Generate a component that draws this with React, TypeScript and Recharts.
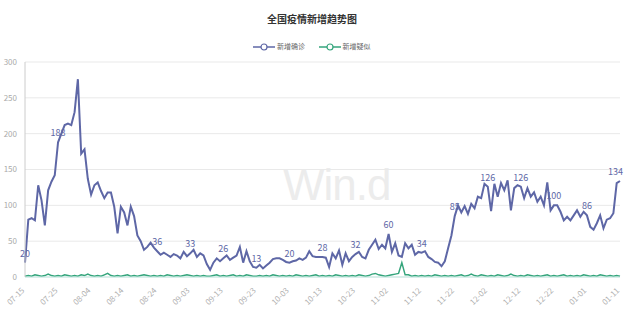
import type { ReactElement } from 'react'
import { LineChart, Line, XAxis, YAxis, CartesianGrid, LabelList } from 'recharts'

const TITLE = '全国疫情新增趋势图'
const SERIES_NAMES = ['新增确诊', '新增疑似']

// daily categories, 2020-07-15 .. 2021-01-11
const START_DAY = Date.UTC(2020, 6, 15)

const tickLabels = [
  '07-15', '07-25', '08-04', '08-14', '08-24', '09-03', '09-13', '09-23', '10-03', '10-13',
  '10-23', '11-02', '11-12', '11-22', '12-02', '12-12', '12-22', '01-01', '01-11',
]

const yTicks = [0, 50, 100, 150, 200, 250, 300]

const confirmed = [
  20, 80, 82, 79, 128, 107, 72, 121, 133, 142,
  188, 200, 212, 214, 212, 230, 276, 172, 178, 137,
  115, 128, 132, 120, 110, 118, 118, 98, 61, 98,
  90, 72, 98, 85, 58, 50, 38, 42, 48, 41,
  36, 31, 34, 31, 28, 32, 30, 26, 35, 29,
  33, 38, 28, 33, 30, 18, 10, 20, 26, 22,
  26, 30, 24, 27, 30, 42, 20, 36, 22, 14,
  13, 17, 12, 16, 20, 25, 26, 26, 24, 21,
  20, 22, 23, 26, 24, 27, 36, 29, 28, 28,
  28, 27, 14, 33, 26, 37, 17, 33, 22, 28,
  32, 35, 28, 26, 38, 45, 52, 39, 45, 40,
  60, 35, 47, 30, 28, 47, 40, 45, 31, 35,
  34, 36, 28, 25, 21, 20, 15, 22, 40, 58,
  85, 100, 90, 99, 88, 102, 96, 112, 110, 130,
  126, 92, 130, 112, 131, 121, 135, 93, 124, 128,
  126, 110, 124, 112, 118, 105, 112, 100, 132, 93,
  100, 100, 91, 79, 84, 79, 86, 93, 84, 91,
  86, 70, 66, 75, 86, 68, 80, 82, 89, 131,
  134,
]

const suspected = [
  1, 2, 1, 3, 2, 1, 2, 4, 2, 1,
  2, 1, 3, 2, 1, 2, 1, 3, 2, 4,
  2, 1, 2, 1, 3, 5, 2, 1, 2, 1,
  2, 3, 1, 2, 1, 2, 3, 2, 1, 2,
  1, 2, 1, 3, 2, 1, 2, 1, 2, 3,
  2, 1, 2, 1, 2, 1, 1, 2, 3, 1,
  2, 1, 2, 3, 1, 2, 1, 3, 2, 1,
  1, 2, 1, 2, 1, 3, 2, 1, 2, 1,
  2, 1, 3, 2, 1, 2, 1, 2, 3, 1,
  2, 1, 2, 1, 3, 2, 1, 2, 1, 2,
  1, 3, 2, 1, 2, 4, 5, 3, 2, 1,
  2, 3, 4, 5, 20, 3, 3, 1, 2, 1,
  2, 1, 2, 1, 3, 2, 1, 2, 1, 2,
  1, 2, 3, 1, 2, 4, 2, 1, 3, 2,
  1, 2, 1, 3, 2, 1, 2, 4, 2, 1,
  2, 1, 3, 2, 1, 2, 1, 2, 3, 1,
  2, 1, 2, 3, 1, 2, 1, 2, 1, 3,
  2, 1, 2, 1, 3, 2, 1, 2, 1, 2,
  1,
]

// labels in the reference are hidden where they collide with the line
const hiddenLabelIdx = [20, 30]

const BLUE = '#5e67a6'
const GREEN = '#35a57c'

function dayLabel(i: number): string {
  const d = new Date(START_DAY + i * 86400000)
  const mm = String(d.getUTCMonth() + 1).padStart(2, '0')
  const dd = String(d.getUTCDate()).padStart(2, '0')
  return `${mm}-${dd}`
}

const data = confirmed.map((v, i) => ({ date: dayLabel(i), confirmed: v, suspected: suspected[i] }))
const tickDates = data.filter((_, i) => i % 10 === 0).map((d) => d.date)

function XTick(props: any): ReactElement | null {
  const { x, y, payload } = props
  if (!tickLabels.includes(payload.value)) return null
  return (
    <text
      x={x}
      y={y + 6}
      transform={`rotate(-45 ${x} ${y + 6})`}
      textAnchor="end"
      fontSize={8}
      fill="#b0b0b0"
    >
      {payload.value}
    </text>
  )
}

function PointLabel(props: any): ReactElement | null {
  const { x, y, value, index } = props
  if (index % 10 !== 0 || hiddenLabelIdx.includes(index)) return null
  const last = index === confirmed.length - 1
  return (
    <text x={last ? x + 3 : x} y={y - 6} textAnchor={last ? 'end' : 'middle'} fontSize={9} fill={BLUE}>
      {value}
    </text>
  )
}

function LegendIcon({ color }: { color: string }): ReactElement {
  return (
    <svg width={22} height={10} style={{ verticalAlign: 'middle' }}>
      <line x1={0} y1={5} x2={22} y2={5} stroke={color} strokeWidth={1.5} />
      <circle cx={11} cy={5} r={3} fill="#fff" stroke={color} strokeWidth={1.2} />
    </svg>
  )
}

export default function App(): ReactElement {
  return (
    <div style={{ position: 'relative', width: 624, height: 313, fontFamily: '"Noto Sans CJK SC", "Noto Sans", sans-serif', background: '#fff' }}>
      <style>{'body{margin:0}'}</style>
      <div style={{ position: 'absolute', top: 11, left: 0, width: 624, textAlign: 'center', fontSize: 10, fontWeight: 700, color: '#333' }}>
        {TITLE}
      </div>
      <div style={{ position: 'absolute', top: 41, left: 0, width: 624, display: 'flex', justifyContent: 'center', gap: 14, fontSize: 7, color: '#666' }}>
        <span><LegendIcon color={BLUE} /> {SERIES_NAMES[0]}</span>
        <span><LegendIcon color={GREEN} /> {SERIES_NAMES[1]}</span>
      </div>
      <div style={{ position: 'absolute', top: 160, left: 283, fontSize: 44, color: '#ececec', fontFamily: 'Arial, "Liberation Sans", sans-serif', letterSpacing: -1 }}>
        Win.d
      </div>
      <div style={{ position: 'absolute', top: 0, left: 0 }}>
        <LineChart width={624} height={313} data={data} margin={{ top: 62, right: 4, bottom: 0, left: 0 }}>
          <CartesianGrid stroke="#e9e9e9" vertical={false} />
          <XAxis
            dataKey="date"
            ticks={tickDates}
            interval={0}
            height={36}
            tick={<XTick />}
            tickLine={false}
            axisLine={{ stroke: '#bfe8e0' }}
          />
          <YAxis
            domain={[0, 300]}
            ticks={yTicks}
            width={25}
            tickLine={false}
            axisLine={{ stroke: '#cccccc' }}
            tick={{ fill: '#aaaaaa', fontSize: 8 }}
          />
          <Line
            type="linear"
            dataKey="confirmed"
            stroke={BLUE}
            strokeWidth={2}
            dot={false}
            isAnimationActive={false}
          >
            <LabelList dataKey="confirmed" content={<PointLabel />} />
          </Line>
          <Line
            type="linear"
            dataKey="suspected"
            stroke={GREEN}
            strokeWidth={1.5}
            dot={false}
            isAnimationActive={false}
          />
        </LineChart>
      </div>
    </div>
  )
}
